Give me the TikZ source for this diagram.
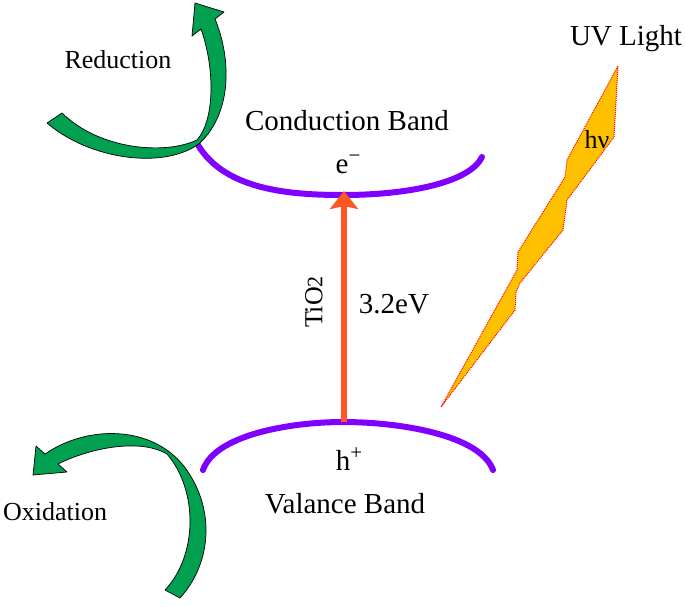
\documentclass[tikz,border=0pt]{standalone}
\usepackage{fontspec}
\setmainfont{Liberation Serif}
\usetikzlibrary{arrows.meta}

\definecolor{bandviolet}{RGB}{128,0,255}
\definecolor{gapred}{RGB}{255,87,34}
\definecolor{boltfill}{RGB}{255,192,0}
\definecolor{turngreen}{RGB}{0,160,80}

% raised charge sign
\newcommand{\charge}[1]{\raisebox{11pt}{\fontsize{21}{24}\selectfont #1}}

\begin{document}
\begin{tikzpicture}[
    x=1pt, y=-1pt,
    band/.style={bandviolet, line width=6pt, line cap=round},
    gap/.style={gapred, line width=6.5pt, -{Stealth[length=18pt,width=28pt,inset=3pt]}},
    turn/.style={fill=turngreen, draw=black, line width=0.7pt, line join=round},
    bolt/.style={fill=boltfill, draw=red, densely dotted, line width=1pt},
    lbl/.style={font=\fontsize{29}{34}\selectfont, anchor=base, inner sep=0pt},
    side/.style={font=\fontsize{26}{30}\selectfont, anchor=base, inner sep=0pt}
]

\useasboundingbox (0,0) rectangle (685,606);

% =========================
% BANDS
% =========================
% conduction band (upper arc)
\draw[band] (198,145) .. controls (225,190) and (290,195) .. (343,195)
    .. controls (410,195) and (470,182) .. (482,157);
\coordinate (cb) at (344,191);
\node[lbl] (cbname) at (347,130) {Conduction Band};
\node[lbl] (elec) at (348,173) {e\charge{−}};

% valence band (lower arc)
\draw[band] (203,470) .. controls (215,435) and (290,422) .. (343,422)
    .. controls (400,422) and (480,435) .. (493,470);
\coordinate (vb) at (344,422);
\node[lbl] (hole) at (349,470) {h\charge{+}};
\node[lbl] (vbname) at (345,513) {Valance Band};

% band gap
\draw[gap] (vb) -- (cb);
\node[side, rotate=90, anchor=center] (tio) at (314,302)
    {TiO{\fontsize{22}{26}\selectfont 2}};
\node[lbl] (gapval) at (394,313) {3.2eV};

% =========================
% UV LIGHT
% =========================
\foreach \x/\y [count=\i] in {618/66,614/137,567/200,563/230,
    520/283,516/292,515/310,441/407,517/270,518/252,565/177,567/160}
    \coordinate (L\i) at (\x,\y);

\draw[bolt] (L1)--(L2)--(L3)--(L4)--(L5)--(L6)--(L7)--(L8)--(L9)--(L10)--(L11)--(L12)--cycle;
\node[side] (hnu) at (597,148) {hν};
\node[lbl] (uv) at (626,45) {UV Light};

% =========================
% REDUCTION / OXIDATION
% =========================
\draw[turn] (195,3) -- (224,12) -- (215,19)
    .. controls (230,55) and (234,110) .. (200,143)
    .. controls (165,170) and (90,160) .. (47,123)
    -- (62,113)
    .. controls (100,150) and (165,155) .. (197,140)
    .. controls (216,118) and (214,65) .. (201,29)
    -- (192,36) -- cycle;
\node[side] (red) at (118,68) {Reduction};

\draw[turn] (33,475) -- (36,446) -- (45,454)
    .. controls (90,423) and (160,425) .. (190,475)
    .. controls (215,515) and (210,565) .. (180,598)
    -- (165,590)
    .. controls (198,555) and (198,490) .. (167,454)
    .. controls (140,438) and (90,448) .. (58,464)
    -- (67,472) -- cycle;
\node[side] (ox) at (55,520) {Oxidation};
\end{tikzpicture}
\end{document}
